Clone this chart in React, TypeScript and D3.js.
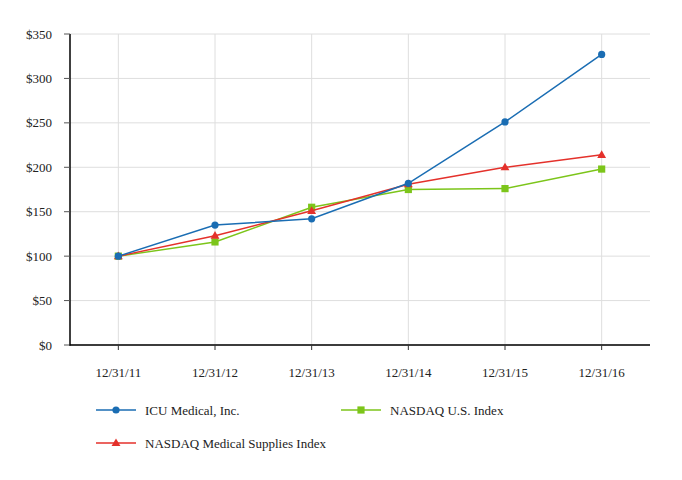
import React from "react";
import * as d3 from "d3";

const categories = ["12/31/11", "12/31/12", "12/31/13", "12/31/14", "12/31/15", "12/31/16"];
const icuValues = [100, 135, 142, 182, 251, 327];
const nasdaqUSValues = [100, 116, 155, 175, 176, 198];
const medSuppliesValues = [100, 123, 151, 181, 200, 214];
const yTicks = [0, 50, 100, 150, 200, 250, 300, 350];
const seriesNames = ["ICU Medical, Inc.", "NASDAQ U.S. Index", "NASDAQ Medical Supplies Index"];

const W = 682, H = 480;
const left = 70, right = 650, top = 34, bottom = 345;
const FONT = "serif";

const BLUE = "#1a6db3";
const GREEN = "#7cc51a";
const RED = "#e4312b";

export default function App() {
  const x = d3.scalePoint<string>().domain(categories).range([left, right]).padding(0.5);
  const y = d3.scaleLinear().domain([0, 350]).range([bottom, top]);
  const line = d3.line<number>().x((_, i) => x(categories[i])!).y((d) => y(d));

  const tri = d3.symbol().type(d3.symbolTriangle).size(34)()!;

  const marker = (kind: string, cx: number, cy: number, color: string, key: any) => {
    if (kind === "circle") return <circle key={key} cx={cx} cy={cy} r={3.6} fill={color} />;
    if (kind === "square") return <rect key={key} x={cx - 3.6} y={cy - 3.6} width={7.2} height={7.2} fill={color} />;
    return <path key={key} d={tri} transform={`translate(${cx},${cy + 0.5})`} fill={color} />;
  };

  const series = [
    { name: seriesNames[1], values: nasdaqUSValues, color: GREEN, kind: "square" },
    { name: seriesNames[2], values: medSuppliesValues, color: RED, kind: "triangle" },
    { name: seriesNames[0], values: icuValues, color: BLUE, kind: "circle" },
  ];

  const legend = [
    { name: seriesNames[0], color: BLUE, kind: "circle", lx: 96, ly: 410 },
    { name: seriesNames[1], color: GREEN, kind: "square", lx: 341, ly: 410 },
    { name: seriesNames[2], color: RED, kind: "triangle", lx: 96, ly: 443 },
  ];

  return (
    <svg width={W} height={H} style={{ position: "absolute", left: 0, top: 0, background: "#fff" }}>
      <rect width={W} height={H} fill="#fff" />
      {yTicks.map((t) => (
        <line key={"hg" + t} x1={left} x2={right} y1={y(t)} y2={y(t)} stroke="#dedede" strokeWidth={1} />
      ))}
      {categories.map((c) => (
        <line key={"vg" + c} x1={x(c)} x2={x(c)} y1={top} y2={bottom} stroke="#dedede" strokeWidth={1} />
      ))}
      <line x1={left} x2={left} y1={top} y2={bottom + 0.5} stroke="#000" strokeWidth={1.5} />
      <line x1={left - 1} x2={right} y1={bottom} y2={bottom} stroke="#000" strokeWidth={1.5} />
      {yTicks.map((t) => (
        <g key={"yt" + t}>
          <line x1={left - 6} x2={left} y1={y(t)} y2={y(t)} stroke="#555" strokeWidth={1} />
          <text x={52} y={y(t)} dy="0.35em" textAnchor="end" fontSize={13} fill="#222" fontFamily={FONT}>
            {"$" + t}
          </text>
        </g>
      ))}
      {categories.map((c) => (
        <g key={"xt" + c}>
          <line x1={x(c)} x2={x(c)} y1={bottom} y2={bottom + 5} stroke="#333" strokeWidth={1} />
          <text x={x(c)} y={372} dy="0.35em" textAnchor="middle" fontSize={13} fill="#222" fontFamily={FONT}>
            {c}
          </text>
        </g>
      ))}
      {series.map((s) => (
        <g key={s.name}>
          <path d={line(s.values)!} fill="none" stroke={s.color} strokeWidth={1.5} />
          {s.values.map((v, i) => marker(s.kind, x(categories[i])!, y(v), s.color, i))}
        </g>
      ))}
      {legend.map((l) => (
        <g key={"lg" + l.name}>
          <line x1={l.lx} x2={l.lx + 40} y1={l.ly} y2={l.ly} stroke={l.color} strokeWidth={1.5} />
          {marker(l.kind, l.lx + 20, l.ly, l.color, "m")}
          <text x={l.lx + 49} y={l.ly} dy="0.35em" fontSize={13} fill="#222" fontFamily={FONT}>
            {l.name}
          </text>
        </g>
      ))}
    </svg>
  );
}
